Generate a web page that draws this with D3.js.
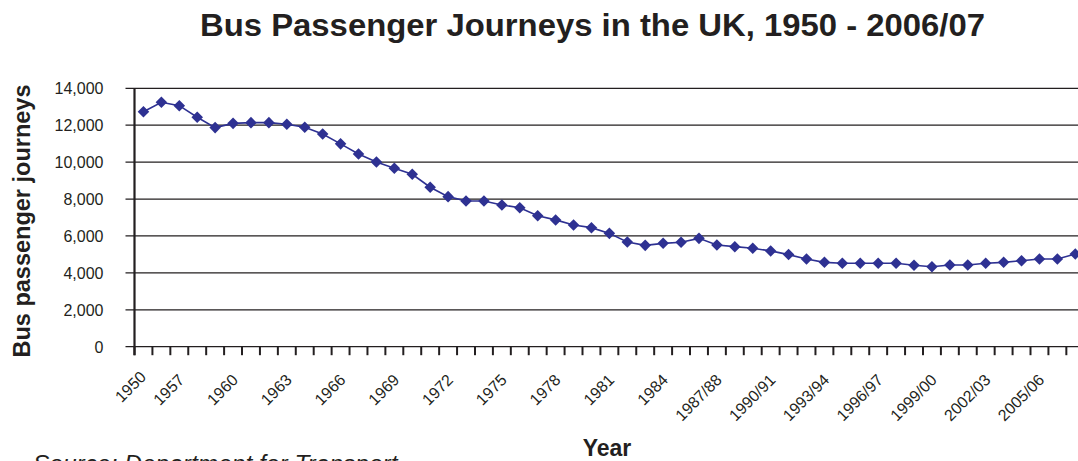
<!DOCTYPE html>
<html>
<head>
<meta charset="utf-8">
<script src="https://cdn.jsdelivr.net/npm/d3@7"></script>
<style>
  html, body { margin: 0; padding: 0; background: #fff; }
  svg { display: block; }
  text { font-family: "Liberation Sans", Arial, Helvetica, sans-serif; fill: #231f20; }
</style>
</head>
<body>
<svg id="chart" width="1078" height="461"></svg>
<script>
// ---- data ----
const categories = [
  "1950","1955","1956","1957","1958","1959","1960","1961","1962","1963","1964","1965","1966",
  "1967","1968","1969","1970","1971","1972","1973","1974","1975","1976","1977","1978","1979",
  "1980","1981","1982","1983","1984","1985/86","1986/87","1987/88","1988/89","1989/90","1990/91",
  "1991/92","1992/93","1993/94","1994/95","1995/96","1996/97","1997/98","1998/99","1999/00",
  "2000/01","2001/02","2002/03","2003/04","2004/05","2005/06","2006/07"
];
const journeys = [
  12730, 13240, 13060, 12430, 11870, 12100, 12140, 12140, 12050, 11890, 11520, 10990, 10440,
  10010, 9670, 9340, 8640, 8130, 7890, 7890, 7680, 7530, 7100, 6870, 6590,
  6450, 6140, 5670, 5490, 5600, 5660, 5870, 5510, 5420, 5330, 5190, 4990,
  4750, 4570, 4520, 4520, 4520, 4520, 4410, 4330, 4430,
  4430, 4520, 4570, 4660, 4750, 4750, 5020
];
const tickLabels = [
  "1950","1957","1960","1963","1966","1969","1972","1975","1978","1981","1984",
  "1987/88","1990/91","1993/94","1996/97","1999/00","2002/03","2005/06"
];
const yTicks = [0, 2000, 4000, 6000, 8000, 10000, 12000, 14000];

const titleText = "Bus Passenger Journeys in the UK, 1950 - 2006/07";
const yTitle = "Bus passenger journeys";
const xTitle = "Year";
const sourceText = "Source: Department for Transport";

// ---- layout ----
const svg = d3.select("#chart");
const plotLeft = 134.5, plotTop = 88.3, plotBottom = 346.7;
const bandW = 17.92;
const plotRight = plotLeft + bandW * categories.length;

const x = d3.scaleBand().domain(categories).range([plotLeft, plotRight]).padding(0);
const y = d3.scaleLinear().domain([0, 14000]).range([plotBottom, plotTop]);

// gridlines (with outside tick stubs)
svg.append("g").selectAll("line").data(yTicks).join("line")
  .attr("x1", plotLeft - 9).attr("x2", plotRight)
  .attr("y1", d => y(d)).attr("y2", d => y(d))
  .attr("stroke", "#231f20").attr("stroke-width", 1.2);

// y axis labels
const yAxis = d3.axisLeft(y).tickValues(yTicks).tickFormat(d3.format(",")).tickSize(0).tickPadding(0);
const gy = svg.append("g").attr("transform", `translate(${plotLeft - 31},0)`).call(yAxis);
gy.select(".domain").remove();
gy.selectAll("text").attr("font-size", 16).attr("fill", "#231f20")
  .style("font-family", '"Liberation Sans", Arial, sans-serif')
  .attr("text-anchor", "end").attr("x", 0).attr("dy", "0.35em");

// x tick marks at category boundaries
const boundaries = categories.map(c => x(c)).concat([plotRight]);
svg.append("g").selectAll("line").data(boundaries).join("line")
  .attr("x1", d => d).attr("x2", d => d)
  .attr("y1", plotBottom).attr("y2", plotBottom + 8.5)
  .attr("stroke", "#231f20").attr("stroke-width", 2);

// y axis line
svg.append("line").attr("x1", plotLeft).attr("x2", plotLeft)
  .attr("y1", plotTop).attr("y2", plotBottom + 8.5)
  .attr("stroke", "#231f20").attr("stroke-width", 2.2);

// x tick labels
const labelIdx = d3.range(0, categories.length, 3);
svg.append("g").selectAll("text").data(labelIdx).join("text")
  .attr("text-anchor", "end")
  .attr("font-size", 16)
  .attr("transform", (d, i) => {
    const cx = x(categories[d]) + x.bandwidth() / 2;
    const dx = i === 0 ? 3.5 : -12;
    const ay = i === 0 ? 378 : 381;
    return `translate(${cx + dx},${ay}) rotate(-45)`;
  })
  .text((d, i) => tickLabels[i]);

// line + markers
const color = "#2e3192";
const pts = categories.map((c, i) => ({ c, v: journeys[i] }));
const line = d3.line().x(d => x(d.c) + x.bandwidth() / 2).y(d => y(d.v));
svg.append("path").datum(pts).attr("d", line)
  .attr("fill", "none").attr("stroke", color).attr("stroke-width", 1.6);
const diamond = d3.symbol().type(d3.symbolDiamond2).size(85);
svg.append("g").selectAll("path").data(pts).join("path")
  .attr("d", diamond)
  .attr("transform", d => `translate(${x(d.c) + x.bandwidth() / 2},${y(d.v)})`)
  .attr("fill", color);

// titles
svg.append("text").attr("x", 200).attr("y", 35.5)
  .attr("font-size", 31).attr("font-weight", "bold")
  .attr("textLength", 785).attr("lengthAdjust", "spacingAndGlyphs")
  .text(titleText);

svg.append("text")
  .attr("transform", `translate(30,221) rotate(-90)`)
  .attr("text-anchor", "middle")
  .attr("font-size", 23.5).attr("font-weight", "bold")
  .text(yTitle);

svg.append("text").attr("x", 607).attr("y", 456)
  .attr("text-anchor", "middle")
  .attr("font-size", 23).attr("font-weight", "bold")
  .text(xTitle);

svg.append("text").attr("x", 33).attr("y", 472)
  .attr("font-size", 24.5).attr("font-style", "italic")
  .text(sourceText);
</script>
</body>
</html>
